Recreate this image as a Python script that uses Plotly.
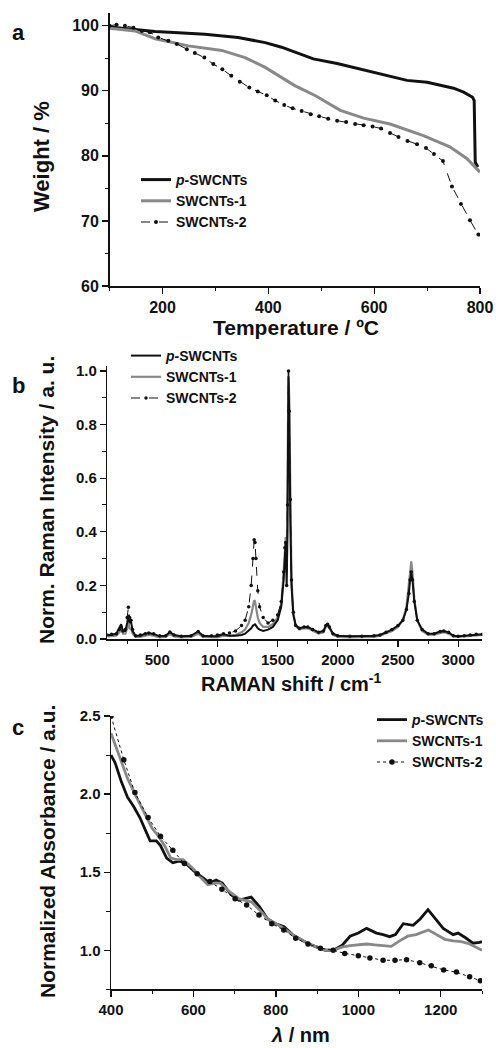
import plotly.graph_objects as go

# ---------------- Panel a: TGA ----------------
tga_p_T = [100, 150, 186, 230, 280, 343, 394, 425, 450, 485, 530, 580, 630, 662, 700, 724, 750, 769, 786, 789, 790, 791, 796]
tga_p_W = [99.8, 99.4, 99.1, 98.9, 98.7, 98.2, 97.4, 96.7, 95.9, 94.9, 94.2, 93.2, 92.2, 91.6, 91.3, 90.9, 90.4, 89.8, 89.0, 88.5, 80.0, 79.0, 78.3]

tga_1_T = [100, 148, 186, 249, 312, 356, 394, 425, 450, 490, 536, 580, 630, 693, 743, 775, 800]
tga_1_W = [99.6, 99.2, 98.0, 96.9, 96.2, 95.1, 93.6, 92.1, 90.8, 89.2, 87.0, 85.8, 84.9, 83.1, 81.4, 79.6, 77.5]

tga_2_T = [100, 113, 129, 145, 161, 176, 192, 211, 227, 246, 261, 279, 296, 313, 330, 346, 364, 380, 397, 413, 430,
           446, 463, 480, 496, 513, 530, 547, 564, 580, 597, 613, 630, 646, 663, 681, 698, 713, 730, 747, 764, 781, 797]
tga_2_W = [100.0, 100.15, 100.0, 99.7, 99.2, 99.0, 98.2, 97.7, 97.2, 96.4, 95.8, 95.1, 94.1, 93.3, 92.3, 91.4, 90.5, 89.9, 89.3, 88.5, 87.8,
           87.3, 86.9, 86.4, 86.1, 85.7, 85.4, 85.2, 84.9, 84.7, 84.5, 84.2, 83.5, 82.9, 82.3, 81.8, 81.2, 80.3, 79.2, 75.3, 72.6, 70.1, 67.9]

# ---------------- Panel b: Raman ----------------
raman_x = [85, 120, 160, 185, 200, 215, 235, 250, 260, 270, 282, 295, 320, 360, 400, 430, 470, 520, 570, 605, 640, 700, 780,
           840, 880, 950, 1000, 1050, 1100, 1150, 1200, 1230, 1260, 1280, 1295, 1305, 1312, 1320, 1335, 1350, 1380, 1420,
           1460, 1500, 1530, 1550, 1560, 1567, 1575, 1582, 1590, 1596, 1605, 1615, 1630, 1650, 1680, 1720, 1750, 1790,
           1840, 1880, 1900, 1915, 1930, 1960, 2000, 2100, 2200, 2300, 2350, 2400, 2450, 2500, 2540, 2570, 2590, 2600,
           2610, 2620, 2635, 2660, 2700, 2750, 2800, 2850, 2880, 2920, 2960, 3000, 3050, 3100, 3150, 3200]
raman_p = [0.015, 0.015, 0.02, 0.04, 0.055, 0.03, 0.03, 0.06, 0.09, 0.06, 0.065, 0.03, 0.012, 0.012, 0.02, 0.022, 0.018, 0.01, 0.012, 0.026, 0.015, 0.01, 0.012,
           0.028, 0.012, 0.01, 0.01, 0.018, 0.012, 0.012, 0.015, 0.02, 0.03, 0.04, 0.05, 0.055, 0.055, 0.05, 0.04, 0.035, 0.03, 0.035,
           0.045, 0.07, 0.12, 0.22, 0.33, 0.36, 0.2, 0.4, 0.98, 0.85, 0.45, 0.2, 0.09, 0.05, 0.04, 0.045, 0.045, 0.035,
           0.025, 0.03, 0.05, 0.055, 0.045, 0.02, 0.012, 0.01, 0.01, 0.012, 0.015, 0.025, 0.035, 0.05, 0.07, 0.11, 0.17, 0.22,
           0.245, 0.22, 0.14, 0.07, 0.035, 0.02, 0.02, 0.028, 0.03, 0.025, 0.012, 0.01, 0.012, 0.015, 0.018, 0.018]
raman_1 = [0.01, 0.01, 0.012, 0.025, 0.035, 0.02, 0.02, 0.04, 0.06, 0.04, 0.04, 0.02, 0.008, 0.008, 0.012, 0.015, 0.012, 0.006, 0.008, 0.018, 0.01, 0.006, 0.008,
           0.02, 0.008, 0.006, 0.006, 0.012, 0.012, 0.015, 0.025, 0.035, 0.06, 0.09, 0.125, 0.145, 0.14, 0.12, 0.08, 0.06, 0.045, 0.045,
           0.055, 0.08, 0.13, 0.25, 0.36, 0.38, 0.25, 0.55, 1.0, 0.9, 0.5, 0.22, 0.1, 0.05, 0.035, 0.04, 0.04, 0.03,
           0.02, 0.025, 0.045, 0.05, 0.04, 0.015, 0.008, 0.006, 0.006, 0.008, 0.012, 0.02, 0.03, 0.045, 0.07, 0.12, 0.2, 0.26,
           0.29, 0.25, 0.15, 0.07, 0.03, 0.016, 0.016, 0.022, 0.025, 0.02, 0.01, 0.008, 0.01, 0.012, 0.014, 0.015]
raman_2 = [0.015, 0.018, 0.02, 0.035, 0.045, 0.03, 0.035, 0.08, 0.118, 0.08, 0.07, 0.035, 0.012, 0.015, 0.02, 0.022, 0.02, 0.012, 0.012, 0.026, 0.015, 0.01, 0.012,
           0.028, 0.012, 0.012, 0.015, 0.02, 0.022, 0.03, 0.05, 0.07, 0.12, 0.2, 0.3, 0.37, 0.36, 0.3, 0.18, 0.12, 0.08, 0.06,
           0.07, 0.09, 0.14, 0.25, 0.34, 0.36, 0.2, 0.5, 1.0, 0.85, 0.52, 0.22, 0.1, 0.05, 0.04, 0.045, 0.045, 0.035,
           0.025, 0.03, 0.05, 0.055, 0.045, 0.02, 0.012, 0.01, 0.01, 0.012, 0.015, 0.025, 0.035, 0.05, 0.07, 0.11, 0.17, 0.22,
           0.25, 0.22, 0.14, 0.07, 0.035, 0.02, 0.02, 0.028, 0.03, 0.025, 0.012, 0.01, 0.012, 0.015, 0.018, 0.018]

# ---------------- Panel c: UV-vis-NIR ----------------
uv_p_x = [400, 410, 425, 440, 455, 470, 485, 495, 510, 520, 535, 550, 565, 580, 600, 620, 640, 655, 670, 690, 710, 725, 740,
          760, 780, 800, 820, 840, 860, 880, 900, 920, 940, 960, 980, 1000, 1020, 1044, 1060, 1076, 1090, 1109, 1133, 1150,
          1169, 1185, 1206, 1230, 1242, 1260, 1278, 1294, 1300]
uv_p_y = [2.25, 2.20, 2.08, 1.98, 1.92, 1.85, 1.76, 1.70, 1.70, 1.67, 1.59, 1.56, 1.57, 1.56, 1.51, 1.47, 1.43, 1.45, 1.43, 1.36, 1.32, 1.33, 1.34,
          1.28, 1.20, 1.17, 1.15, 1.10, 1.07, 1.04, 1.02, 1.00, 1.00, 1.03, 1.09, 1.11, 1.14, 1.11, 1.10, 1.087, 1.10, 1.17, 1.16, 1.20,
          1.26, 1.21, 1.14, 1.10, 1.11, 1.08, 1.045, 1.05, 1.055]
uv_1_x = [400, 420, 440, 460, 480, 500, 515, 530, 545, 560, 575, 600, 620, 635, 650, 665, 690, 710, 725, 740, 760, 780, 800,
          820, 840, 860, 880, 900, 920, 940, 960, 980, 1000, 1020, 1040, 1060, 1080, 1100, 1120, 1140, 1170, 1190, 1210,
          1230, 1250, 1270, 1300]
uv_1_y = [2.39, 2.25, 2.10, 1.99, 1.89, 1.78, 1.73, 1.67, 1.59, 1.58, 1.58, 1.52, 1.46, 1.42, 1.43, 1.43, 1.37, 1.33, 1.32, 1.31, 1.26, 1.20, 1.17,
          1.14, 1.10, 1.07, 1.04, 1.02, 1.00, 1.00, 1.02, 1.03, 1.035, 1.04, 1.035, 1.03, 1.025, 1.06, 1.09, 1.10, 1.13, 1.10, 1.07,
          1.06, 1.055, 1.04, 1.00]
uv_2_x = [400, 431, 458, 490, 520, 550, 578, 609, 640, 669, 701, 729, 759, 790, 819, 848, 878, 908, 939, 967, 1000, 1028,
          1060, 1089, 1117, 1149, 1177, 1207, 1238, 1270, 1296]
uv_2_y = [2.50, 2.22, 2.01, 1.85, 1.73, 1.64, 1.555, 1.49, 1.44, 1.39, 1.33, 1.29, 1.225, 1.17, 1.13, 1.077, 1.04, 1.013, 1.00, 0.98, 0.965, 0.95,
          0.936, 0.936, 0.94, 0.92, 0.90, 0.874, 0.86, 0.83, 0.805]

names = ["<i>p</i>-SWCNTs", "SWCNTs-1", "SWCNTs-2"]

W, H = 496, 1048
FONT = "Liberation Sans, Arial, sans-serif"
BLACK = "#111111"
GRAY = "#888888"

def px(x):
    return x / W

def py(y):
    return 1 - y / H

fig = go.Figure()

# Panel a
fig.add_trace(go.Scatter(x=tga_p_T, y=tga_p_W, name=names[0], mode="lines",
                         line=dict(color=BLACK, width=3), legend="legend", legendrank=1,
                         xaxis="x", yaxis="y"))
fig.add_trace(go.Scatter(x=tga_1_T, y=tga_1_W, name=names[1], mode="lines",
                         line=dict(color=GRAY, width=3), legend="legend", legendrank=2,
                         xaxis="x", yaxis="y"))
fig.add_trace(go.Scatter(x=tga_2_T, y=tga_2_W, name=names[2], mode="lines+markers",
                         line=dict(color=BLACK, width=1, dash="dash"),
                         marker=dict(color=BLACK, size=4), legend="legend", legendrank=3,
                         xaxis="x", yaxis="y"))

# Panel b
fig.add_trace(go.Scatter(x=raman_x, y=raman_1, name=names[1], mode="lines",
                         line=dict(color=GRAY, width=2.2), legend="legend2", legendrank=2,
                         xaxis="x2", yaxis="y2"))
fig.add_trace(go.Scatter(x=raman_x, y=raman_p, name=names[0], mode="lines",
                         line=dict(color=BLACK, width=2), legend="legend2", legendrank=1,
                         xaxis="x2", yaxis="y2"))
fig.add_trace(go.Scatter(x=raman_x, y=raman_2, name=names[2], mode="lines+markers",
                         line=dict(color=BLACK, width=1, dash="dash"),
                         marker=dict(color=BLACK, size=3.5), legend="legend2", legendrank=3,
                         xaxis="x2", yaxis="y2"))

# Panel c
fig.add_trace(go.Scatter(x=uv_p_x, y=uv_p_y, name=names[0], mode="lines",
                         line=dict(color=BLACK, width=2.8), legend="legend3", legendrank=1,
                         xaxis="x3", yaxis="y3"))
fig.add_trace(go.Scatter(x=uv_1_x, y=uv_1_y, name=names[1], mode="lines",
                         line=dict(color=GRAY, width=2.8), legend="legend3", legendrank=2,
                         xaxis="x3", yaxis="y3"))
fig.add_trace(go.Scatter(x=uv_2_x, y=uv_2_y, name=names[2], mode="lines+markers",
                         line=dict(color=BLACK, width=1, dash="dot"),
                         marker=dict(color=BLACK, size=5.5), legend="legend3", legendrank=3,
                         xaxis="x3", yaxis="y3"))

tickfont = dict(family=FONT, size=16, color=BLACK, weight="bold")
tickfont_s = dict(family=FONT, size=15, color=BLACK, weight="bold")

def axis(domain, rng, dtick, minor_dtick, anchor, tf):
    return dict(domain=domain, range=rng, dtick=dtick, tick0=0, anchor=anchor,
                showline=True, linecolor=BLACK, linewidth=1.5, mirror=False,
                ticks="outside", ticklen=6, tickwidth=1.3, tickcolor=BLACK,
                minor=dict(dtick=minor_dtick, ticks="outside", ticklen=3.5, tickwidth=1, tickcolor=BLACK),
                showgrid=False, zeroline=False, tickfont=tf, fixedrange=True, automargin=False)

fig.update_layout(
    width=W, height=H,
    margin=dict(l=0, r=0, t=0, b=0, pad=0, autoexpand=False),
    paper_bgcolor="white", plot_bgcolor="white",
    font=dict(family=FONT, color=BLACK),
    hovermode=False,
    xaxis=axis([px(109.6), px(480)], [100, 800], 200, 100, "y", tickfont),
    yaxis=axis([py(286), py(12.7)], [60, 102], 10, 5, "x", tickfont),
    xaxis2=axis([px(107.3), px(482.3)], [85, 3200], 500, 250, "y2", tickfont_s),
    yaxis2=axis([py(639), py(365.6)], [0, 1.02], 0.2, 0.1, "x2", tickfont_s),
    xaxis3=axis([px(111), px(482)], [400, 1300], 200, 100, "y3", tickfont_s),
    yaxis3=axis([py(989.3), py(716)], [0.75, 2.5], 0.5, 0.25, "x3", tickfont_s),
)
fig.update_layout(yaxis2_tickformat=".1f", yaxis3_tickformat=".1f")

legfont = dict(family=FONT, size=14, color=BLACK, weight="bold")
fig.update_layout(
    legend=dict(x=px(136), y=py(164), xanchor="left", yanchor="top", font=legfont,
                bgcolor="rgba(0,0,0,0)"),
    legend2=dict(x=px(126), y=py(340), xanchor="left", yanchor="top", font=legfont,
                 bgcolor="rgba(0,0,0,0)"),
    legend3=dict(x=px(372), y=py(704), xanchor="left", yanchor="top", font=legfont,
                 bgcolor="rgba(0,0,0,0)"),
)

def ann(text, x, y, size, angle=0):
    return dict(text=text, x=px(x), y=py(y), xref="paper", yref="paper",
                xanchor="center", yanchor="middle", showarrow=False, textangle=angle,
                font=dict(family=FONT, size=size, color=BLACK, weight="bold"))

fig.update_layout(annotations=[
    ann("a", 18, 32, 22),
    ann("b", 18, 385, 22),
    ann("c", 18, 727, 22),
    ann("Weight / %", 41, 157, 22, -90),
    ann("Temperature / ºC", 296, 327, 21),
    ann("Norm. Raman Intensity / a. u.", 46, 500, 21, -90),
    ann("RAMAN shift / cm<sup>-1</sup>", 291, 682, 20),
    ann("Normalized Absorbance / a.u.", 47, 852, 21, -90),
    ann("<i>λ</i> / nm", 300, 1035, 20),
])

fig.write_html("out.html", config={"displayModeBar": False, "staticPlot": True},
               post_script="document.body.style.margin='0px';")
